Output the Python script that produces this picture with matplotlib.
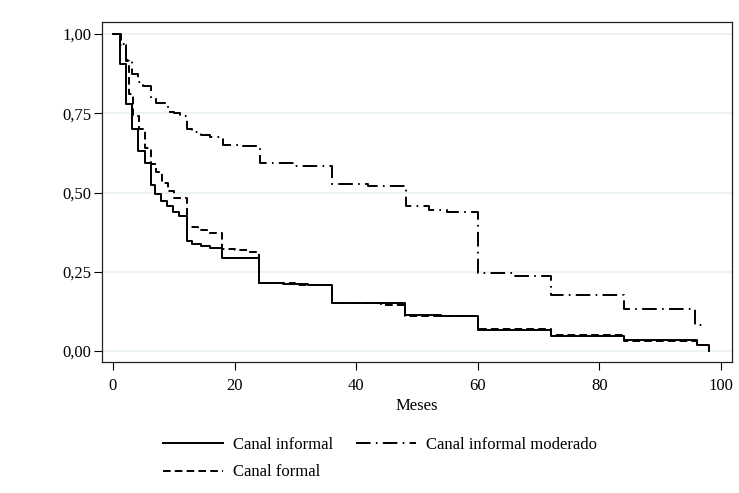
import matplotlib
matplotlib.use('Agg')
import matplotlib.pyplot as plt
from matplotlib.ticker import FuncFormatter

plt.rcParams['font.family'] = ['Liberation Serif', 'DejaVu Serif']
plt.rcParams['lines.scale_dashes'] = False

# Kaplan-Meier curves, step times (meses) and survival after each step
informal_t = [0, 1.2, 2.1, 3.1, 4.2, 5.3, 6.2, 6.9, 7.9, 8.9, 9.9, 10.9, 12.1, 13, 14.5,
              16, 18, 24, 28, 32, 36, 42, 48, 54, 60, 72, 84, 96, 98]
informal_s = [1.0, 0.905, 0.78, 0.70, 0.632, 0.593, 0.525, 0.495, 0.474, 0.457, 0.44, 0.426,
              0.346, 0.337, 0.33, 0.325, 0.293, 0.216, 0.212, 0.208, 0.152, 0.15, 0.113,
              0.11, 0.067, 0.048, 0.035, 0.019, 0.0]

formal_t = [0, 1.2, 2.2, 2.6, 3.3, 4.3, 5.3, 6.2, 7.0, 8.0, 9.0, 10.0, 12.1, 14, 15.5,
            18, 20, 22, 24, 30, 36, 44, 48, 60, 72, 84, 96, 97.9]
formal_s = [1.0, 0.965, 0.915, 0.81, 0.74, 0.70, 0.64, 0.59, 0.565, 0.53, 0.505, 0.483,
            0.39, 0.383, 0.372, 0.322, 0.318, 0.313, 0.216, 0.208, 0.15, 0.145, 0.11,
            0.068, 0.052, 0.03, 0.02, 0.02]

moderado_t = [0, 1.3, 2.2, 3.2, 4.2, 5.0, 6.2, 7.0, 9.0, 10, 11, 12.1, 13, 14.5, 16, 18.1,
              21, 24.2, 30, 36, 42, 48.2, 52, 55, 60, 66, 72, 84, 95.7, 97.6]
moderado_s = [1.0, 0.967, 0.917, 0.875, 0.85, 0.835, 0.797, 0.782, 0.755, 0.75, 0.741,
              0.70, 0.69, 0.68, 0.676, 0.65, 0.647, 0.593, 0.585, 0.526, 0.522, 0.457,
              0.445, 0.44, 0.246, 0.237, 0.177, 0.131, 0.082, 0.082]

x_ticks = [0, 20, 40, 60, 80, 100]
y_ticks = [0.0, 0.25, 0.5, 0.75, 1.0]

fig = plt.figure(figsize=(7.39, 4.93), dpi=100)
ax = fig.add_axes([102 / 739, 131 / 493, 630 / 739, 340 / 493])

lw = 1.4
ax.step(informal_t, informal_s, where='post', color='black', lw=lw,
        label='Canal informal', zorder=3)
ax.step(formal_t, formal_s, where='post', color='black', lw=lw,
        linestyle=(0, (5.5, 3.0)), label='Canal formal', zorder=3)
ax.step(moderado_t, moderado_s, where='post', color='black', lw=lw,
        linestyle=(0, (10.5, 3.8, 1.2, 3.8)), label='Canal informal moderado', zorder=3)

ax.set_xlim(-1.8, 101.8)
ax.set_ylim(-0.0347, 1.0379)
ax.set_xticks(x_ticks)
ax.set_yticks(y_ticks)
ax.yaxis.set_major_formatter(FuncFormatter(lambda v, p: ('%.2f' % v).replace('.', ',')))
ax.tick_params(direction='out', length=5.5, width=0.8, labelsize=12, colors='black')
ax.tick_params(axis='x', pad=6)
ax.tick_params(axis='y', pad=2)
ax.grid(axis='y', color='#e6eff1', lw=1.1, zorder=0)
ax.set_axisbelow(True)
for s in ax.spines.values():
    s.set_linewidth(0.9)
    s.set_color('#222222')
ax.set_xlabel('Meses', fontsize=12, labelpad=3)

handles, labels = ax.get_legend_handles_labels()
leg = fig.legend(handles, labels,
                 ncol=2, loc='upper left', bbox_to_anchor=(148 / 739, 1 - 422 / 493),
                 frameon=False, fontsize=12, handlelength=3.6, handletextpad=0.6,
                 columnspacing=1.4, labelspacing=0.68)

fig.savefig('out.png', dpi=100, facecolor='white')
